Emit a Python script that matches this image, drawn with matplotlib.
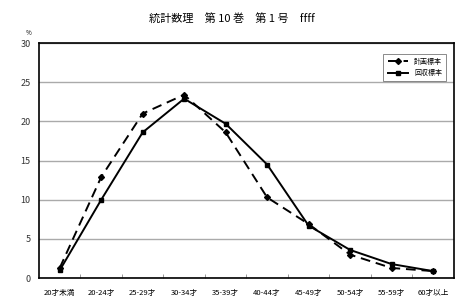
import matplotlib
matplotlib.use('Agg')
import matplotlib.pyplot as plt

plt.rcParams['font.family'] = ['Noto Sans CJK JP', 'DejaVu Sans']

# データ
age_groups = ['20才未満', '20-24才', '25-29才', '30-34才', '35-39才',
              '40-44才', '45-49才', '50-54才', '55-59才', '60才以上']
plan_sample = [1.3, 12.9, 21.0, 23.4, 18.6, 10.3, 6.9, 3.0, 1.3, 0.9]  # 計画標本
resp_sample = [1.0, 10.0, 18.6, 22.9, 19.7, 14.5, 6.7, 3.6, 1.8, 0.9]  # 回収標本
y_ticks = [0, 5, 10, 15, 20, 25, 30]

fig = plt.figure(figsize=(4.64, 3.05), dpi=100)
ax = fig.add_axes([0.084, 0.088, 0.894, 0.771])

x = list(range(len(age_groups)))
ax.plot(x, plan_sample, color='black', linestyle=(0, (5, 3)), linewidth=1.4,
        marker='D', markersize=3, label='計画標本')
ax.plot(x, resp_sample, color='black', linestyle='-', linewidth=1.4,
        marker='s', markersize=3.5, label='回収標本')

ax.set_xlim(-0.5, len(age_groups) - 0.5)
ax.set_ylim(0, 30)
ax.set_yticks(y_ticks)
ax.set_yticklabels([str(v) for v in y_ticks], fontsize=6.5, color='#333333')
ax.yaxis.grid(True, color='#aaaaaa', linewidth=1.0)
ax.set_axisbelow(True)
ax.tick_params(axis='y', length=0, pad=6)

ax.set_xticks(x)
ax.set_xticklabels(age_groups, fontsize=5.5)
ax.tick_params(axis='x', length=0, pad=8)
ax.set_xticks([i + 0.5 for i in x[:-1]], minor=True)
ax.tick_params(axis='x', which='minor', length=3, direction='in', color='#888888')

for s in ax.spines.values():
    s.set_linewidth(1.2)

ax.text(-0.025, 1.025, '%', transform=ax.transAxes, fontsize=4.5, ha='center', va='bottom')

leg = ax.legend(loc='upper right', fontsize=5, frameon=True, fancybox=False,
                edgecolor='#555555', handlelength=3, borderpad=0.6,
                bbox_to_anchor=(0.99, 0.97))
leg.get_frame().set_linewidth(0.6)

fig.text(0.5, 0.94, '統計数理　第 10 巻　第 1 号　ffff', ha='center', va='center', fontsize=8)

fig.savefig('out.png', dpi=100)
